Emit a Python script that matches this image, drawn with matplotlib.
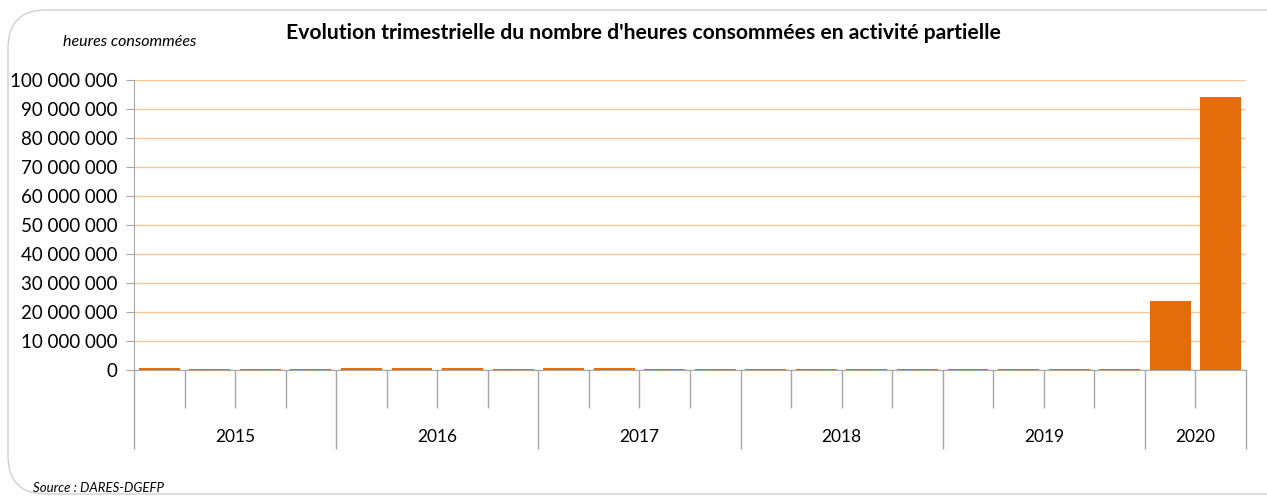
import matplotlib.pyplot as plt
import matplotlib.transforms as mtransforms
from matplotlib.patches import FancyBboxPatch
from matplotlib.ticker import FuncFormatter
import numpy as np

plt.rcParams['font.family'] = ['Lato', 'DejaVu Sans']

years = ['2015', '2016', '2017', '2018', '2019', '2020']
quarters_per_year = [4, 4, 4, 4, 4, 2]
# heures consommées par trimestre
hours = [800000, 500000, 300000, 450000,
         700000, 850000, 550000, 350000,
         700000, 650000, 300000, 250000,
         250000, 200000, 200000, 200000,
         200000, 200000, 200000, 250000,
         23700000, 94200000]

bar_color = '#E46C0A'
grid_color = '#FAC898'
axis_color = '#A6A6A6'

fig = plt.figure(figsize=(12.67, 4.97), dpi=100)

frame = FancyBboxPatch((8 / 1267, 3 / 497), 1300 / 1267, 484 / 497,
                       boxstyle='round,pad=0,rounding_size=0.03',
                       transform=fig.transFigure, facecolor='white',
                       edgecolor='#D0D0D0', linewidth=1.0,
                       mutation_aspect=1267 / 497, zorder=-1)
fig.patches.append(frame)

ax = fig.add_axes([134 / 1267, 127 / 497, 1112 / 1267, 290 / 497])
ax.set_facecolor('none')

x = np.arange(len(hours))
ax.bar(x, hours, width=0.81, color=bar_color, zorder=3)

ax.set_xlim(-0.5, len(hours) - 0.5)
ax.set_ylim(0, 100000000)
ax.set_yticks(np.arange(0, 100000001, 10000000))
ax.yaxis.set_major_formatter(FuncFormatter(lambda v, p: f'{int(v):,}'.replace(',', ' ')))
ax.tick_params(axis='y', length=6, color=axis_color, labelsize=13.5, pad=6, labelcolor='black')
ax.yaxis.grid(True, color=grid_color, linewidth=1.0, zorder=0)

for side in ['top', 'right']:
    ax.spines[side].set_visible(False)
ax.spines['left'].set_color(axis_color)
ax.spines['bottom'].set_color(axis_color)

# quarter separators (short) and year separators (long)
bounds = np.cumsum([0] + quarters_per_year) - 0.5
ax.set_xticks(bounds)
ax.set_xticks(np.arange(-0.5, len(hours)), minor=True)
ax.set_xticklabels([])
ax.tick_params(axis='x', which='major', length=57, color=axis_color, width=1)
ax.tick_params(axis='x', which='minor', length=27, color=axis_color, width=1)

trans = mtransforms.blended_transform_factory(ax.transData, fig.transFigure)
for i, yr in enumerate(years):
    center = (bounds[i] + bounds[i + 1]) / 2
    ax.text(center, 60 / 497, yr, transform=trans, ha='center', va='center', fontsize=12.5)

fig.text(643 / 1267, 464 / 497, "Evolution trimestrielle du nombre d'heures consommées en activité partielle",
         ha='center', va='center', fontsize=15.2, fontweight='bold')
fig.text(130 / 1267, 455 / 497, 'heures consommées', ha='center', va='center',
         fontsize=11.5, style='italic')
fig.text(33 / 1267, 9 / 497, 'Source : DARES-DGEFP', ha='left', va='center',
         fontsize=9.5, style='italic')

fig.savefig('out.png', dpi=100)
